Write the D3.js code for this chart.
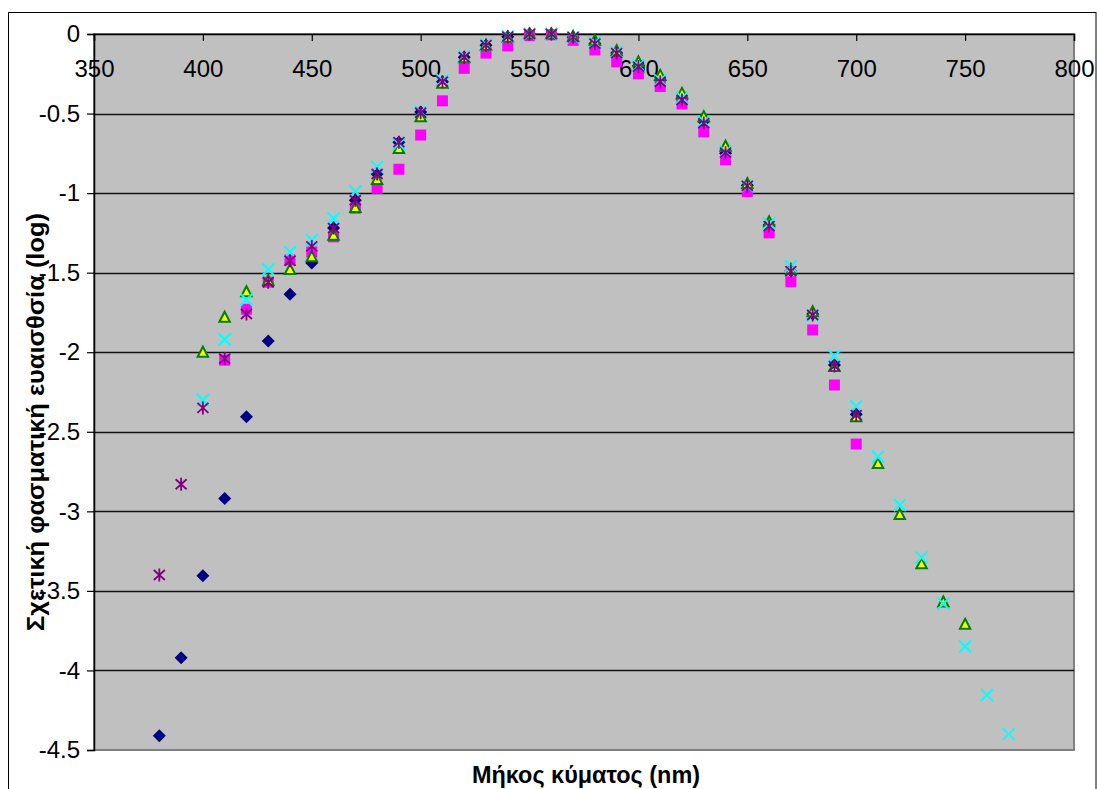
<!DOCTYPE html>
<html>
<head>
<meta charset="utf-8">
<script src="https://cdn.jsdelivr.net/npm/d3@7"></script>
<style>
  html, body { margin: 0; padding: 0; background: #fff; }
  svg { display: block; font-family: "Liberation Sans", Arial, sans-serif; }
</style>
</head>
<body>
<div id="chart"></div>
<script>
// ── Data ─────────────────────────────────────────────────
var wavelengths = [380, 390, 400, 410, 420, 430, 440, 450, 460, 470, 480, 490, 500, 510, 520, 530, 540, 550, 560, 570,
                   580, 590, 600, 610, 620, 630, 640, 650, 660, 670, 680, 690, 700, 710, 720, 730, 740, 750, 760, 770];

var navyValues = [-4.41, -3.92, -3.405, -2.92, -2.405, -1.93, -1.635, -1.44, -1.22, -1.045, -0.88, -0.68, -0.49, -0.30, -0.146, -0.07, -0.017, 0, 0, -0.02,
                  -0.06, -0.12, -0.20, -0.29, -0.41, -0.55, -0.75, -0.95, -1.20, -1.49, -1.76, -2.08, -2.39, null, null, null, null, null, null, null];

var magentaValues = [null, null, null, -2.05, -1.73, -1.56, -1.42, -1.37, -1.275, -1.095, -0.97, -0.85, -0.635, -0.42, -0.216, -0.12, -0.075, -0.01, -0.005, -0.04,
                     -0.10, -0.175, -0.25, -0.33, -0.44, -0.615, -0.79, -0.99, -1.25, -1.557, -1.86, -2.206, -2.577, null, null, null, null, null, null, null];

var yellowValues = [null, null, -2.00, -1.78, -1.62, -1.55, -1.48, -1.40, -1.265, -1.09, -0.915, -0.72, -0.52, -0.31, -0.15, -0.07, -0.02, 0, 0, -0.015,
                    -0.04, -0.105, -0.175, -0.26, -0.373, -0.52, -0.705, -0.94, -1.18, -1.48, -1.745, -2.09, -2.405, -2.70, -3.02, -3.33, -3.57, -3.71, null, null];

var cyanValues = [null, null, -2.30, -1.92, -1.67, -1.48, -1.37, -1.295, -1.16, -0.99, -0.835, -0.69, -0.49, -0.29, -0.14, -0.065, -0.015, 0, 0, -0.02,
                  -0.055, -0.115, -0.20, -0.29, -0.40, -0.55, -0.74, -0.955, -1.19, -1.46, -1.766, -2.024, -2.34, -2.657, -2.96, -3.29, -3.58, -3.85, -4.155, -4.40];

var purpleValues = [-3.40, -2.83, -2.35, -2.04, -1.76, -1.56, -1.425, -1.335, -1.22, -1.045, -0.88, -0.68, -0.495, -0.30, -0.146, -0.07, -0.017, 0, 0, -0.02,
                    -0.06, -0.12, -0.205, -0.30, -0.415, -0.56, -0.746, -0.955, -1.207, -1.49, -1.766, -2.087, -2.395, null, null, null, null, null, null, null];

var xTicks = [350, 400, 450, 500, 550, 600, 650, 700, 750, 800];
var yTicks = [0, -0.5, -1, -1.5, -2, -2.5, -3, -3.5, -4, -4.5];

var xTitle = "Μήκος κύματος (nm)";
var yTitle = "Σχετική φασματική ευαισθσία (log)";

(function () {
  var W = 1097, H = 789;
  var margin = { left: 94, top: 34, right: 1097 - 1074, bottom: 789 - 750 };
  var iW = W - margin.left - margin.right;
  var iH = H - margin.top - margin.bottom;

  // Marker shapes, drawn around the point's own origin
  var markers = {
    diamond: function (sel) {
      sel.append("path").attr("d", "M0,-6.5L6.5,0L0,6.5L-6.5,0Z").attr("fill", "#000080");
    },
    square: function (sel) {
      sel.append("rect").attr("x", -5.5).attr("y", -5.5).attr("width", 11).attr("height", 11).attr("fill", "#ff00ff");
    },
    triangle: function (sel) {
      sel.append("path").attr("d", "M0,-5.5L5.2,4.5L-5.2,4.5Z")
        .attr("fill", "#ffff00").attr("stroke", "#008000").attr("stroke-width", 2).attr("stroke-linejoin", "miter");
    },
    cross: function (sel) {
      sel.append("path").attr("d", "M-6,-6L6,6M6,-6L-6,6")
        .attr("stroke", "#00ffff").attr("stroke-width", 2).attr("fill", "none");
    },
    star: function (sel) {
      sel.append("path").attr("d", "M0,-6.5L0,6.5M-5.5,-5L5.5,5M5.5,-5L-5.5,5")
        .attr("stroke", "#800080").attr("stroke-width", 1.8).attr("fill", "none");
    }
  };

  var series = [
    { name: "navy", values: navyValues, marker: "diamond" },
    { name: "magenta", values: magentaValues, marker: "square" },
    { name: "yellow", values: yellowValues, marker: "triangle" },
    { name: "cyan", values: cyanValues, marker: "cross" },
    { name: "purple", values: purpleValues, marker: "star" }
  ];

  var svg = d3.select("#chart").append("svg").attr("width", W).attr("height", H);

  // Chart area border
  svg.append("rect")
    .attr("x", 8.5).attr("y", 12.5).attr("width", 1096 - 8.5).attr("height", 800)
    .attr("fill", "#fff").attr("stroke", "#000").attr("stroke-width", 1);

  var g = svg.append("g").attr("transform", "translate(" + margin.left + "," + margin.top + ")");

  // Scales
  var xScale = d3.scaleLinear().domain([350, 800]).range([0, iW]);
  var yScale = d3.scaleLinear().domain([-4.5, 0]).range([iH, 0]);

  // Plot area
  g.append("rect")
    .attr("width", iW).attr("height", iH)
    .attr("fill", "#c0c0c0").attr("stroke", "#808080").attr("stroke-width", 2);

  // Gridlines
  g.selectAll(".grid")
    .data(yTicks.filter(function (d) { return d !== 0 && d !== -4.5; }))
    .join("line")
    .attr("class", "grid")
    .attr("x1", 0).attr("x2", iW)
    .attr("y1", function (d) { return Math.round(yScale(d)) + 0.5; })
    .attr("y2", function (d) { return Math.round(yScale(d)) + 0.5; })
    .attr("stroke", "#111").attr("stroke-width", 1.4);

  // Axes: value axis on the left, wavelength axis crossing at y = 0
  var yAxis = g.append("g")
    .call(d3.axisLeft(yScale).tickValues(yTicks).tickSize(7).tickPadding(7).tickFormat(function (d) { return String(d); }));
  var xAxis = g.append("g")
    .attr("transform", "translate(0," + yScale(0) + ")")
    .call(d3.axisBottom(xScale).tickValues(xTicks).tickSize(7).tickPadding(19).tickFormat(d3.format("d")));

  [xAxis, yAxis].forEach(function (ax) {
    ax.select(".domain").attr("stroke", "#000").attr("stroke-width", 1.5);
    ax.selectAll(".tick line").attr("stroke", "#000").attr("stroke-width", 1.2);
    ax.selectAll(".tick text").attr("fill", "#000").style("font-size", "24px")
      .style("font-family", "'Liberation Sans', Arial, sans-serif");
  });

  // Points, one group per series, drawn in series order
  series.forEach(function (s) {
    var pts = wavelengths.map(function (w, i) { return { x: w, y: s.values[i] }; })
      .filter(function (d) { return d.y !== null; });
    var grp = g.append("g").attr("class", "series-" + s.name);
    grp.selectAll("g")
      .data(pts)
      .join("g")
      .attr("transform", function (d) { return "translate(" + xScale(d.x) + "," + yScale(d.y) + ")"; })
      .each(function () { markers[s.marker](d3.select(this)); });
  });

  // Axis titles (stretched to the width Excel gave them)
  svg.append("text")
    .attr("x", 586).attr("y", 783)
    .attr("text-anchor", "middle")
    .attr("textLength", 228).attr("lengthAdjust", "spacingAndGlyphs")
    .style("font-size", "23px").style("font-weight", "bold")
    .text(xTitle);

  svg.append("text")
    .attr("transform", "translate(44,422) rotate(-90)")
    .attr("text-anchor", "middle")
    .attr("textLength", 418).attr("lengthAdjust", "spacingAndGlyphs")
    .style("font-size", "23px").style("font-weight", "bold")
    .text(yTitle);
})();
</script>
</body>
</html>
